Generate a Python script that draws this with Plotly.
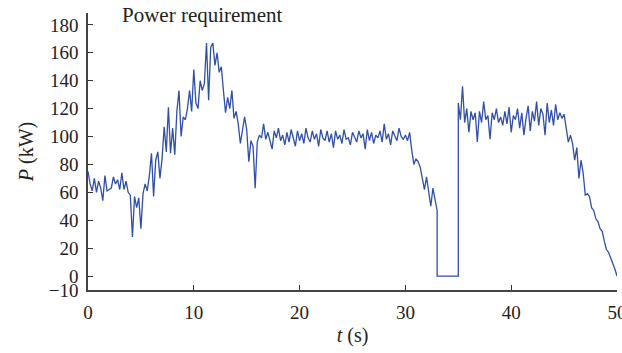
import numpy as np
import plotly.graph_objects as go

# time grids (s)
t_a = np.round(np.arange(0.0, 33.0001, 0.2), 1)
t_zero = [33.0, 35.0]
t_b = np.round(np.arange(35.0, 50.0001, 0.2), 1)

# power requirement (kW), 0 .. 33 s
p_a = [75, 66, 61, 70, 60, 68, 63, 54, 72, 61,
       62, 63, 71, 66, 69, 62, 74, 62, 68, 60,
       58, 28, 57, 49, 56, 34, 59, 66, 61, 72,
       88, 57, 83, 89, 70, 84, 107, 89, 121, 88,
       106, 87, 118, 133, 100, 114, 112, 120, 133, 118,
       148, 124, 120, 140, 133, 138, 167, 126, 164, 167,
       151, 160, 146, 150, 133, 117, 128, 120, 133, 113,
       118, 109, 95, 106, 114, 105, 82, 97, 93, 63,
       96, 101, 99,
       109, 98, 103, 96, 91, 104, 99, 106, 97, 101,
       94, 103, 96, 105, 98, 93, 104, 97, 102, 95,
       106, 99, 96, 104, 98, 102, 93, 105, 99, 97,
       104, 96, 102, 92, 104, 98, 101, 95, 105, 98,
       99, 94, 103, 100, 96, 104, 99, 102, 91, 105,
       97, 103, 95, 101, 99, 104, 96, 109, 98, 102,
       94, 104, 101, 97, 106, 100, 98, 101, 97, 103,
       90, 80, 84, 82, 78, 70, 62, 71, 60, 50,
       63, 56, 47]
p_zero = [0, 0]
# power requirement (kW), 35 .. 50 s
p_b = [124, 112, 136, 110, 120, 103, 118, 112, 117, 96,
       118, 110, 125, 112, 115, 98, 117, 112, 120, 110,
       114, 108, 118, 109, 121, 103, 115, 112, 120, 106,
       117, 101, 113, 122, 104, 118, 111, 125, 108, 120,
       116, 101, 124, 110, 119, 108, 123, 112, 117, 113,
       116, 104, 96, 101, 95, 83, 92, 70, 83, 74,
       58, 59, 57, 49, 47, 41, 39, 34, 32, 25,
       19, 17, 13, 10, 5, 0]

t_all = list(t_a) + t_zero + list(t_b)
p_all = p_a + p_zero + p_b

y_ticks = [-10, 0, 20, 40, 60, 80, 100, 120, 140, 160, 180]
y_ticktext = ["\u221210", "0", "20", "40", "60", "80", "100", "120", "140", "160", "180"]
x_ticks = [0, 10, 20, 30, 40, 50]

font_family = "Liberation Serif, DejaVu Serif, serif"

fig = go.Figure()
fig.add_trace(go.Scatter(x=t_all, y=p_all, mode="lines",
                         line=dict(color="#2f4fa8", width=1.3),
                         showlegend=False))

fig.update_layout(
    width=622, height=353,
    margin=dict(l=88, r=5, t=13, b=63, autoexpand=False),
    paper_bgcolor="white", plot_bgcolor="white",
    font=dict(family=font_family, size=19, color="#222"),
    xaxis=dict(range=[0, 50], tickvals=x_ticks, ticks="inside", ticklen=5,
               tickcolor="#333", showline=True, linecolor="#444", linewidth=1.5,
               showgrid=False, zeroline=False, ticklabeloverflow="allow",
               automargin=False,
               title=dict(text="<i>t</i> (s)", standoff=6, font=dict(size=20)),
               ticklabelstandoff=4),
    yaxis=dict(range=[-10, 188.5], tickvals=y_ticks, ticktext=y_ticktext,
               ticks="inside", ticklen=5, tickcolor="#333",
               showline=True, linecolor="#444", linewidth=1.5,
               showgrid=False, zeroline=False, automargin=False,
               title=dict(text="<i>P</i> (kW)", standoff=10, font=dict(size=20)),
               ticklabelstandoff=4),
    annotations=[dict(text="Power requirement", xref="paper", yref="paper",
                      x=0.06, y=0.992, xanchor="left", yanchor="middle",
                      showarrow=False, font=dict(family=font_family, size=21, color="#222"))],
)

fig.write_html("out.html")
